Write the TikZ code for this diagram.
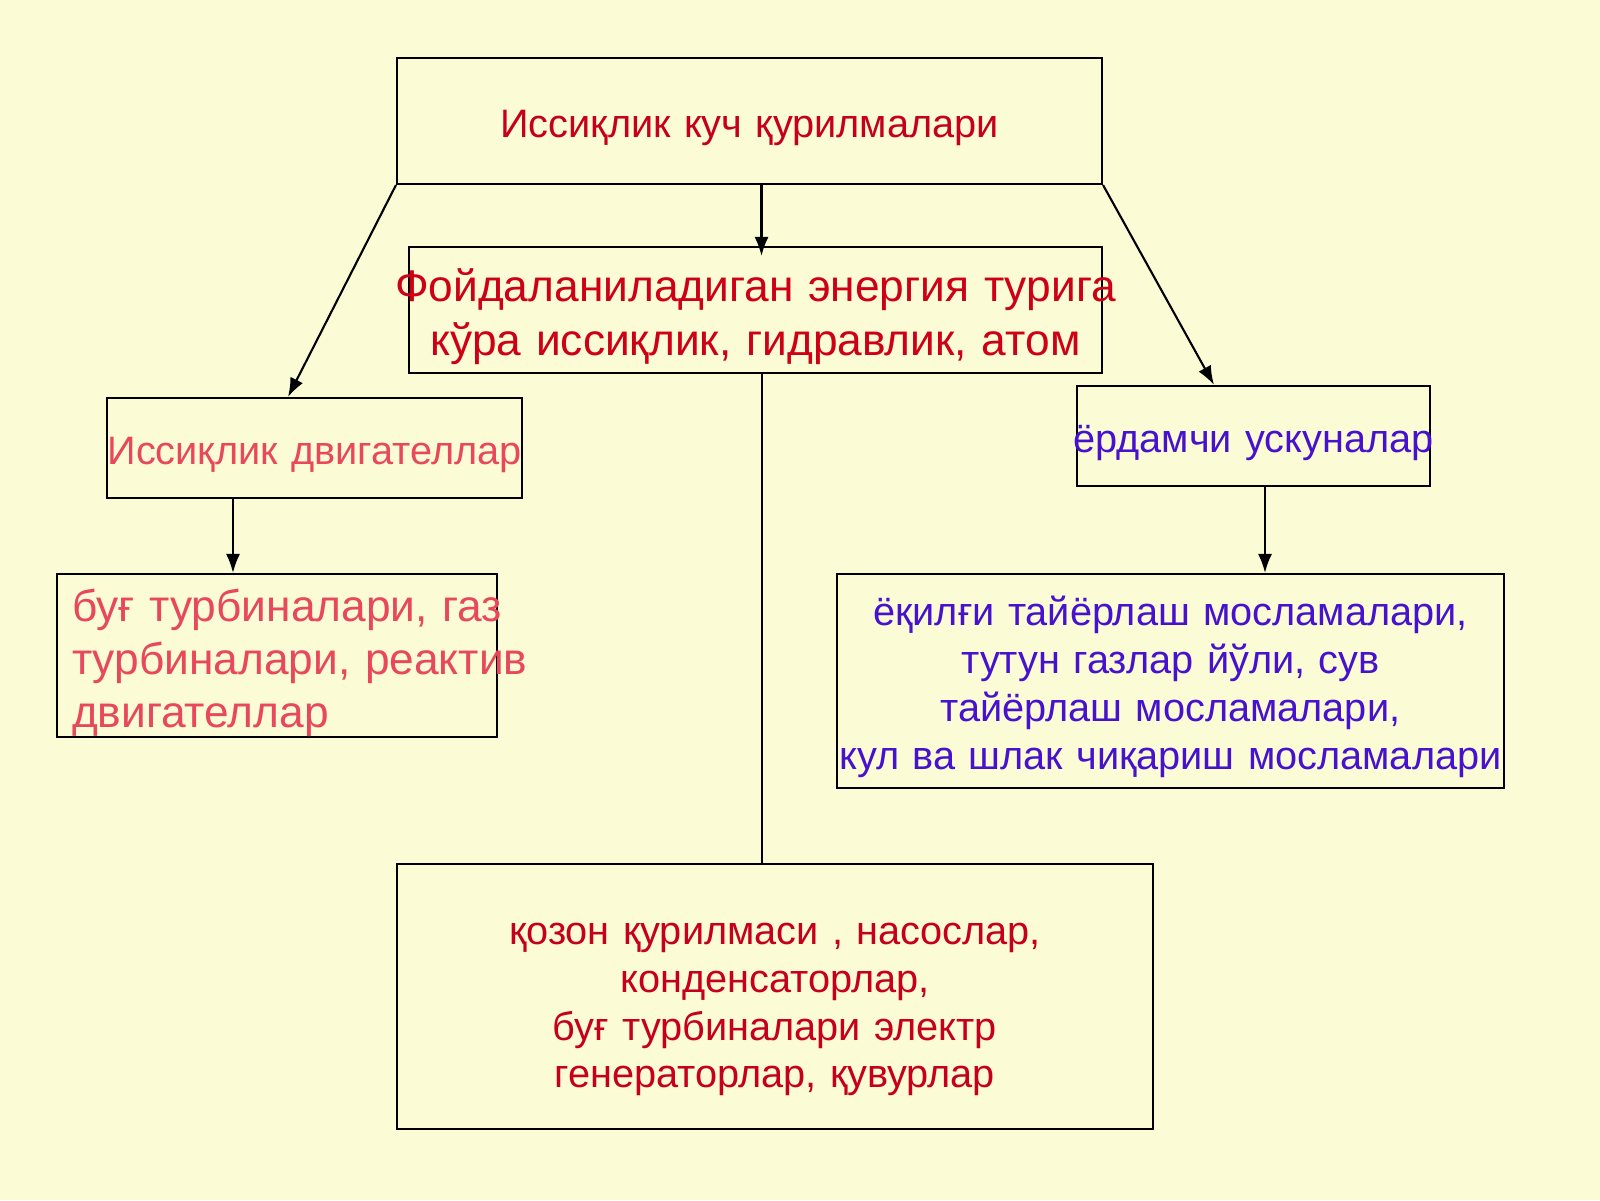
\documentclass[tikz,border=0pt]{standalone}
\usepackage{fontspec}
\setmainfont{Liberation Sans}
\usetikzlibrary{arrows.meta, positioning, calc}

\definecolor{bgcream}{RGB}{251,252,214}
\definecolor{darkred}{RGB}{198,0,28}
\definecolor{brightred}{RGB}{205,0,22}
\definecolor{pinkred}{RGB}{232,72,92}
\definecolor{violetblue}{RGB}{70,18,205}

\begin{document}
\begin{tikzpicture}[>={Latex[length=1.9mm,width=1.4mm]}, line width=0.6pt,
    box/.style={draw=black, rectangle, inner sep=0pt, align=center,
      execute at begin node={\rule{0pt}{1.05em}}},
    link/.style={->, black}]
  % --- Page and background
  \fill[bgcream] (0,0) rectangle (16,-12);
  \useasboundingbox (0,0) rectangle (16,-12);

  % --- Boxes (explicit coords, px/100)
  \node[box, minimum width=7.05cm, minimum height=1.26cm, text width=7.05cm,
        text=darkred, font=\fontsize{11.3}{13.7}\selectfont]
    (top) at (7.495,-1.21) {Иссиқлик куч қурилмалари};
  \node[box, minimum width=6.93cm, minimum height=1.26cm, text width=6.93cm,
        text=brightred, font=\fontsize{12.6}{15.4}\selectfont]
    (mid) at (7.555,-3.10)
    {\makebox[\linewidth]{Фойдаланиладиган энергия турига}\\
     кўра иссиқлик, гидравлик, атом};
  \node[box, minimum width=4.15cm, minimum height=1.00cm, text width=4.15cm,
        text=pinkred, font=\fontsize{11.3}{13.7}\selectfont]
    (left) at (3.145,-4.48) {\makebox[\linewidth]{Иссиқлик двигателлар}};
  \node[box, minimum width=4.40cm, minimum height=1.63cm, text width=4.10cm,
        align=left, text=pinkred, font=\fontsize{12.6}{15.1}\selectfont]
    (lbot) at (2.77,-6.555)
    {\mbox{буғ турбиналари, газ}\\ \mbox{турбиналари, реактив}\\ двигателлар};
  \node[box, minimum width=3.53cm, minimum height=1.00cm, text width=3.53cm,
        text=violetblue, font=\fontsize{11.3}{13.7}\selectfont]
    (right) at (12.535,-4.36) {\makebox[\linewidth]{ёрдамчи ускуналар}};
  \node[box, minimum width=6.67cm, minimum height=2.14cm, text width=6.67cm,
        text=violetblue, font=\fontsize{11.3}{13.7}\selectfont]
    (rbot) at (11.705,-6.81)
    {ёқилғи тайёрлаш мосламалари,\\ тутун газлар йўли, сув\\ тайёрлаш мосламалари,\\
     \makebox[\linewidth]{кул ва шлак чиқариш мосламалари}};
  \node[box, minimum width=7.56cm, minimum height=2.65cm, text width=7.56cm,
        text=darkred, font=\fontsize{11.3}{13.6}\selectfont,
        execute at begin node={\rule{0pt}{1.2em}}]
    (bot) at (7.75,-9.965)
    {қозон қурилмаси , насослар,\\ конденсаторлар,\\ буғ турбиналари электр\\
     генераторлар, қувурлар};

  % --- Connectors
  \draw[link, shorten >=-1mm] ([xshift=1.2mm]top.south) -- ([xshift=1.2mm]top.south |- mid.north);
  \draw[link] (top.south west) -- ([xshift=-2.65mm]left.north);
  \draw[link] (top.south east) -- ([xshift=-3.95mm]right.north);
  \draw[link] ([xshift=-8.15mm]left.south) -- ([xshift=-8.15mm]left.south |- lbot.north);
  \draw[link] ([xshift=1.15mm]right.south) -- ([xshift=1.15mm]right.south |- rbot.north);
  \draw ([xshift=0.65mm]mid.south) -- ([xshift=0.65mm]mid.south |- bot.north);
\end{tikzpicture}
\end{document}
